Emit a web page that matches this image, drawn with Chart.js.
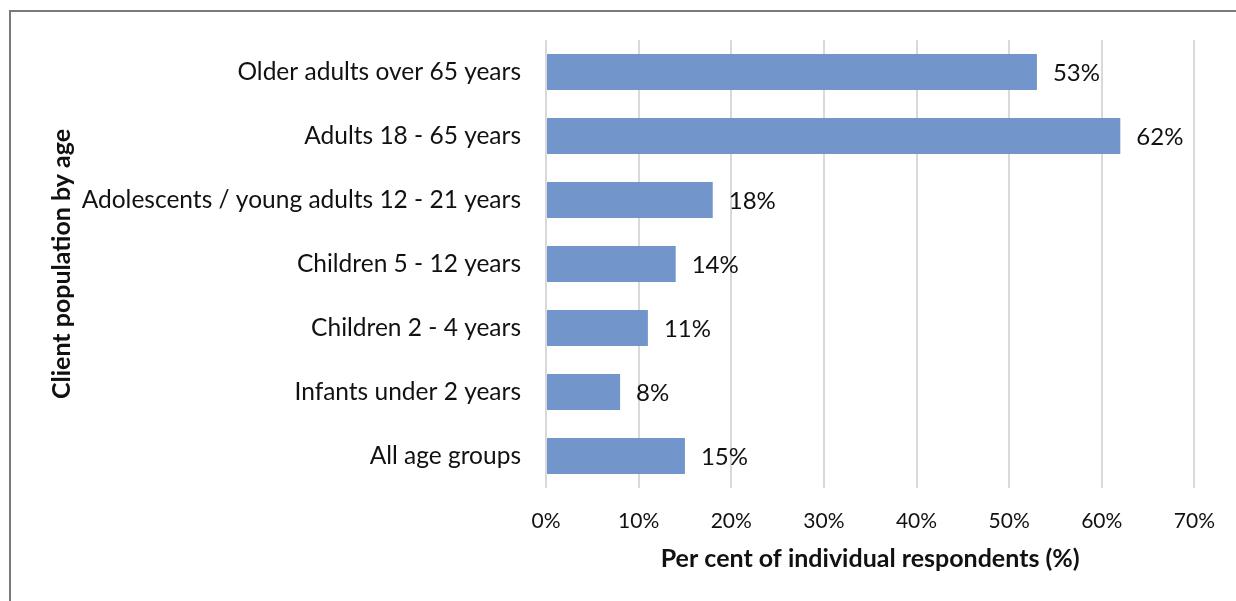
<!DOCTYPE html>
<html>
<head>
<meta charset="utf-8">
<script src="https://cdn.jsdelivr.net/npm/chart.js@4.4.1/dist/chart.umd.min.js"></script>
<style>
  html, body { margin: 0; padding: 0; background: #fff; }
  #wrap { position: relative; width: 1236px; height: 601px; overflow: hidden; }
  #frame { position: absolute; left: 9px; top: 10px; width: 1300px; height: 700px;
           border-left: 2px solid #7a7a7a; border-top: 2px solid #7a7a7a; }
  #chart { position: absolute; left: 0; top: 0; }
</style>
</head>
<body>
<div id="wrap">
  <div id="frame"></div>
  <canvas id="chart" width="1236" height="601"></canvas>
</div>
<script>
// chart data
const categories = [
  'Older adults over 65 years',
  'Adults 18 - 65 years',
  'Adolescents / young adults 12 - 21 years',
  'Children 5 - 12 years',
  'Children 2 - 4 years',
  'Infants under 2 years',
  'All age groups'
];
const percentValues = [53, 62, 18, 14, 11, 8, 15];
const axisMin = 0;
const axisMax = 70;
const axisStep = 10;
const xTitle = 'Per cent of individual respondents (%)';
const yTitle = 'Client population by age';

const FONT = 'Lato, "Open Sans", sans-serif';

// draws the "53%" style labels at the end of each bar
const valueLabels = {
  id: 'valueLabels',
  afterDatasetsDraw(chart) {
    const ctx = chart.ctx;
    const meta = chart.getDatasetMeta(0);
    ctx.save();
    ctx.font = '24px ' + FONT;
    ctx.fillStyle = '#111';
    ctx.textAlign = 'left';
    ctx.textBaseline = 'middle';
    meta.data.forEach((bar, i) => {
      ctx.fillText(percentValues[i] + '%', bar.x + 16, bar.y + 1);
    });
    ctx.restore();
  }
};

new Chart(document.getElementById('chart'), {
  type: 'bar',
  data: {
    labels: categories,
    datasets: [{
      data: percentValues,
      backgroundColor: '#7295cc',
      borderWidth: 0,
      categoryPercentage: 1,
      barPercentage: 0.5625
    }]
  },
  options: {
    indexAxis: 'y',
    responsive: false,
    animation: false,
    layout: { padding: { top: 40, right: 39, bottom: 0, left: 0 } },
    plugins: {
      legend: { display: false },
      tooltip: { enabled: false }
    },
    scales: {
      x: {
        min: axisMin,
        max: axisMax,
        afterFit: (scale) => { scale.height = 113; },
        grid: { color: '#d9d9d9', lineWidth: 2, drawTicks: false },
        border: { display: false },
        ticks: {
          stepSize: axisStep,
          padding: 21,
          color: '#111',
          font: { family: FONT, size: 21 },
          callback: (v) => v + '%'
        },
        title: {
          display: true,
          text: xTitle,
          color: '#111',
          padding: { top: 0, bottom: 27 },
          font: { family: FONT, size: 25, weight: 'bold' }
        }
      },
      y: {
        afterFit: (scale) => { scale.width = 546; },
        grid: { display: false, drawTicks: false },
        border: { display: false },
        ticks: {
          padding: 25,
          color: '#111',
          font: { family: FONT, size: 24.5 }
        },
        title: {
          display: true,
          text: yTitle,
          color: '#111',
          padding: { top: 47, bottom: 0 },
          font: { family: FONT, size: 25, weight: 'bold' }
        }
      }
    }
  },
  plugins: [valueLabels]
});
</script>
</body>
</html>
